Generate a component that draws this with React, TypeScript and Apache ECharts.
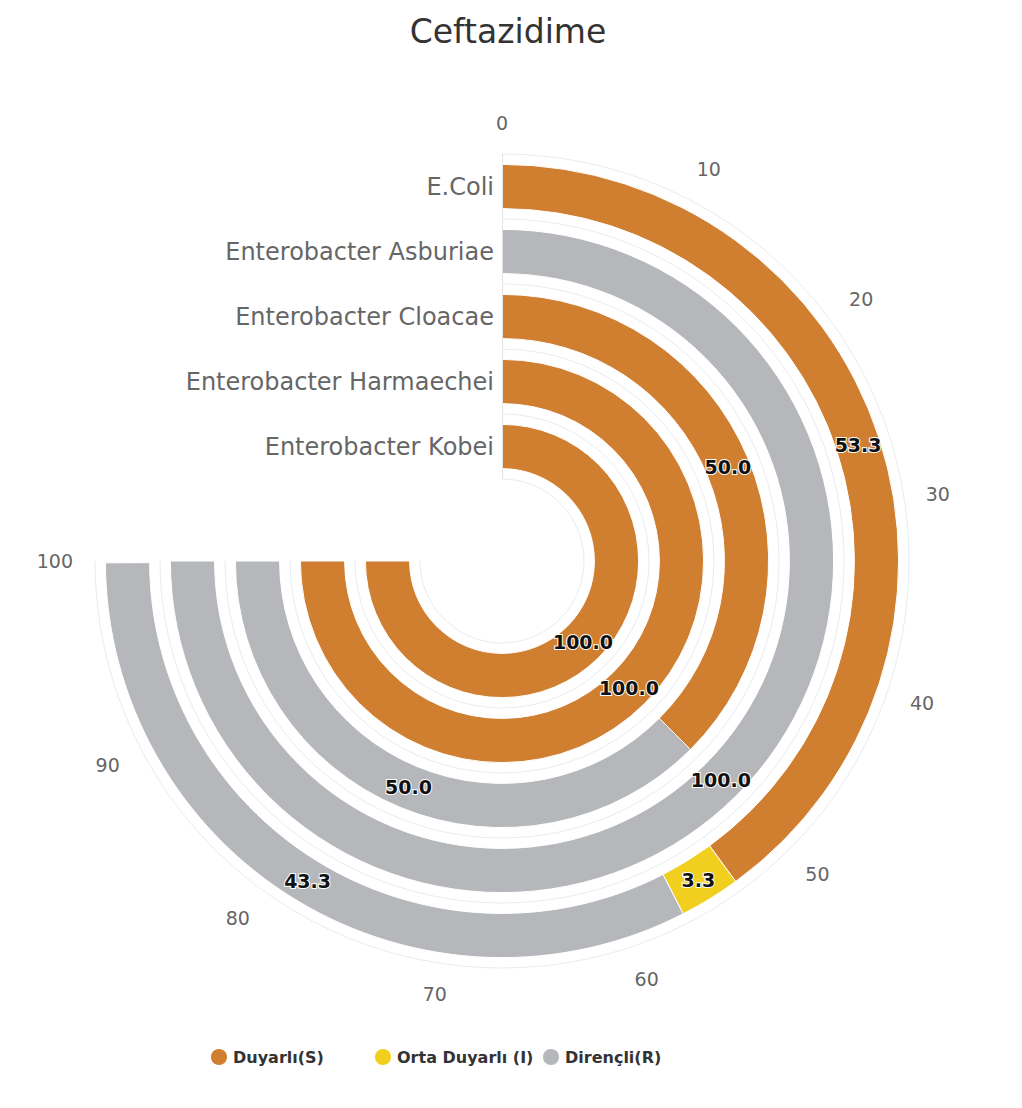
import React, { useEffect, useRef } from 'react';
import * as echarts from 'echarts';

const categories = [
  'E.Coli',
  'Enterobacter Asburiae',
  'Enterobacter Cloacae',
  'Enterobacter Harmaechei',
  'Enterobacter Kobei',
];
const seriesNames = ['Duyarlı(S)', 'Orta Duyarlı (I)', 'Dirençli(R)'];
const duyarli = [53.3, 0, 50, 100, 100];
const ortaDuyarli = [3.3, 0, 0, 0, 0];
const direncli = [43.3, 100, 50, 0, 0];
const colors = ['#d07e30', '#f0cf1e', '#b5b7bb'];
const angleMin = 0;
const angleMax = 100;
const angleStep = 10;

const FONT = 'DejaVu Sans';
const legendLefts = [204, 368, 536];

export default function App() {
  const ref = useRef<HTMLDivElement>(null);
  useEffect(() => {
    if (!ref.current) return;
    const chart = echarts.init(ref.current, undefined, { renderer: 'svg' });
    const values = [duyarli, ortaDuyarli, direncli];
    chart.setOption({
      animation: false,
      backgroundColor: '#ffffff',
      textStyle: { fontFamily: FONT },
      color: colors,
      title: {
        text: 'Ceftazidime',
        left: 503,
        textAlign: 'center',
        top: 10,
        textStyle: { fontFamily: FONT, fontSize: 33, fontWeight: 'normal', color: '#333' },
      },
      legend: seriesNames.map((name, i) => ({
        left: legendLefts[i],
        top: 1042,
        itemWidth: 18,
        itemHeight: 18,
        icon: 'circle',
        data: [name],
        textStyle: { fontFamily: FONT, fontSize: 16, fontWeight: 'bold', color: '#333' },
      })),
      polar: { center: [502, 561], radius: [82, 407] },
      angleAxis: {
        type: 'value',
        min: angleMin,
        max: angleMax,
        interval: angleStep,
        startAngle: 90,
        endAngle: -180,
        clockwise: true,
        axisLine: { show: false },
        axisTick: { show: false },
        axisLabel: { color: '#666', fontSize: 19, margin: 22, fontFamily: FONT },
        splitLine: { show: false },
      },
      radiusAxis: {
        type: 'category',
        data: categories,
        inverse: true,
        axisLine: { lineStyle: { color: '#e3e3e3' } },
        axisTick: { show: false },
        axisLabel: { color: '#666', fontSize: 24, interval: 0, fontFamily: FONT },
        splitLine: { show: true, lineStyle: { color: '#e8ecf0' } },
        z: 10,
      },
      series: seriesNames.map((name, i) => ({
        type: 'bar',
        name,
        coordinateSystem: 'polar',
        stack: 'total',
        data: values[i],
        barCategoryGap: '32%',
        itemStyle: { color: colors[i], borderColor: '#ffffff', borderWidth: 1 },
        label: {
          show: true,
          position: 'middle',
          rotate: 0,
          fontFamily: FONT,
          fontSize: 19,
          fontWeight: 'bold',
          color: '#111',
          textBorderColor: '#ffffff',
          textBorderWidth: 2,
          formatter: (p: any) => (p.value ? Number(p.value).toFixed(1) : ''),
        },
      })),
    });
    return () => chart.dispose();
  }, []);
  return (
    <div
      ref={ref}
      style={{ position: 'fixed', left: 0, top: 0, width: 1022, height: 1108 }}
    />
  );
}
